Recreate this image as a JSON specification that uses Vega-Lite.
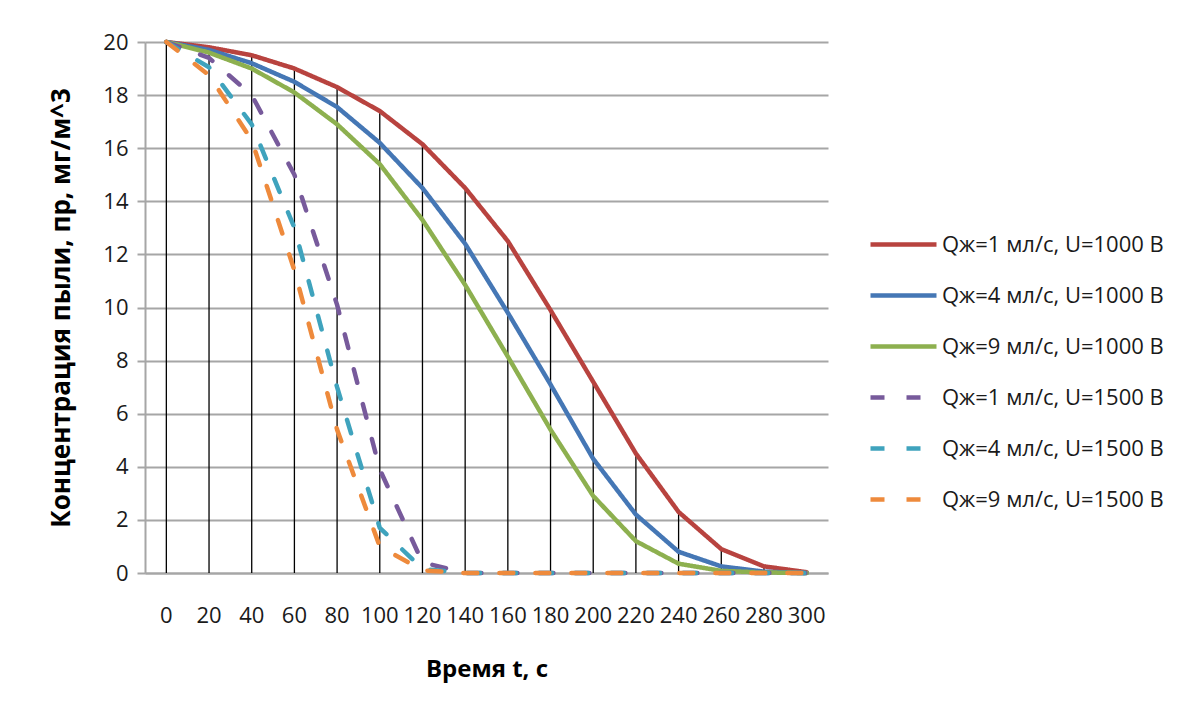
{
  "$schema": "https://vega.github.io/schema/vega-lite/v6.json",
  "width": 683,
  "height": 531,
  "autosize": {"type": "none"},
  "padding": {"left": 145, "top": 42, "right": 362, "bottom": 147},
  "background": "white",
  "config": {
    "view": {"stroke": null},
    "font": "Open Sans",
    "axis": {"labelFont": "Open Sans", "titleFont": "Open Sans", "labelColor": "#1a1a1a", "titleColor": "#000000"},
    "legend": {"labelFont": "Open Sans"}
  },
  "data": {
    "values": [
      {"t": 0, "s": "Qж=1 мл/с, U=1000 В", "v": 20},
      {"t": 20, "s": "Qж=1 мл/с, U=1000 В", "v": 19.8},
      {"t": 40, "s": "Qж=1 мл/с, U=1000 В", "v": 19.5},
      {"t": 60, "s": "Qж=1 мл/с, U=1000 В", "v": 19.0},
      {"t": 80, "s": "Qж=1 мл/с, U=1000 В", "v": 18.3},
      {"t": 100, "s": "Qж=1 мл/с, U=1000 В", "v": 17.4},
      {"t": 120, "s": "Qж=1 мл/с, U=1000 В", "v": 16.15},
      {"t": 140, "s": "Qж=1 мл/с, U=1000 В", "v": 14.5},
      {"t": 160, "s": "Qж=1 мл/с, U=1000 В", "v": 12.5},
      {"t": 180, "s": "Qж=1 мл/с, U=1000 В", "v": 9.9},
      {"t": 200, "s": "Qж=1 мл/с, U=1000 В", "v": 7.2},
      {"t": 220, "s": "Qж=1 мл/с, U=1000 В", "v": 4.5},
      {"t": 240, "s": "Qж=1 мл/с, U=1000 В", "v": 2.3},
      {"t": 260, "s": "Qж=1 мл/с, U=1000 В", "v": 0.9},
      {"t": 280, "s": "Qж=1 мл/с, U=1000 В", "v": 0.25},
      {"t": 300, "s": "Qж=1 мл/с, U=1000 В", "v": 0.03},
      {"t": 0, "s": "Qж=4 мл/с, U=1000 В", "v": 20},
      {"t": 20, "s": "Qж=4 мл/с, U=1000 В", "v": 19.7},
      {"t": 40, "s": "Qж=4 мл/с, U=1000 В", "v": 19.2},
      {"t": 60, "s": "Qж=4 мл/с, U=1000 В", "v": 18.5},
      {"t": 80, "s": "Qж=4 мл/с, U=1000 В", "v": 17.55},
      {"t": 100, "s": "Qж=4 мл/с, U=1000 В", "v": 16.2},
      {"t": 120, "s": "Qж=4 мл/с, U=1000 В", "v": 14.5},
      {"t": 140, "s": "Qж=4 мл/с, U=1000 В", "v": 12.4},
      {"t": 160, "s": "Qж=4 мл/с, U=1000 В", "v": 9.8},
      {"t": 180, "s": "Qж=4 мл/с, U=1000 В", "v": 7.1},
      {"t": 200, "s": "Qж=4 мл/с, U=1000 В", "v": 4.3},
      {"t": 220, "s": "Qж=4 мл/с, U=1000 В", "v": 2.2},
      {"t": 240, "s": "Qж=4 мл/с, U=1000 В", "v": 0.8},
      {"t": 260, "s": "Qж=4 мл/с, U=1000 В", "v": 0.25},
      {"t": 280, "s": "Qж=4 мл/с, U=1000 В", "v": 0.05},
      {"t": 300, "s": "Qж=4 мл/с, U=1000 В", "v": 0},
      {"t": 0, "s": "Qж=9 мл/с, U=1000 В", "v": 20},
      {"t": 20, "s": "Qж=9 мл/с, U=1000 В", "v": 19.6},
      {"t": 40, "s": "Qж=9 мл/с, U=1000 В", "v": 19.0},
      {"t": 60, "s": "Qж=9 мл/с, U=1000 В", "v": 18.1},
      {"t": 80, "s": "Qж=9 мл/с, U=1000 В", "v": 16.9},
      {"t": 100, "s": "Qж=9 мл/с, U=1000 В", "v": 15.4},
      {"t": 120, "s": "Qж=9 мл/с, U=1000 В", "v": 13.3},
      {"t": 140, "s": "Qж=9 мл/с, U=1000 В", "v": 10.85},
      {"t": 160, "s": "Qж=9 мл/с, U=1000 В", "v": 8.15},
      {"t": 180, "s": "Qж=9 мл/с, U=1000 В", "v": 5.4},
      {"t": 200, "s": "Qж=9 мл/с, U=1000 В", "v": 2.9},
      {"t": 220, "s": "Qж=9 мл/с, U=1000 В", "v": 1.2},
      {"t": 240, "s": "Qж=9 мл/с, U=1000 В", "v": 0.35},
      {"t": 260, "s": "Qж=9 мл/с, U=1000 В", "v": 0.08},
      {"t": 280, "s": "Qж=9 мл/с, U=1000 В", "v": 0.02},
      {"t": 300, "s": "Qж=9 мл/с, U=1000 В", "v": 0},
      {"t": 0, "s": "Qж=1 мл/с, U=1500 В", "v": 20},
      {"t": 20, "s": "Qж=1 мл/с, U=1500 В", "v": 19.4},
      {"t": 40, "s": "Qж=1 мл/с, U=1500 В", "v": 18.0},
      {"t": 60, "s": "Qж=1 мл/с, U=1500 В", "v": 15.0},
      {"t": 80, "s": "Qж=1 мл/с, U=1500 В", "v": 10.1},
      {"t": 100, "s": "Qж=1 мл/с, U=1500 В", "v": 3.9},
      {"t": 120, "s": "Qж=1 мл/с, U=1500 В", "v": 0.4},
      {"t": 140, "s": "Qж=1 мл/с, U=1500 В", "v": 0},
      {"t": 160, "s": "Qж=1 мл/с, U=1500 В", "v": 0},
      {"t": 180, "s": "Qж=1 мл/с, U=1500 В", "v": 0},
      {"t": 200, "s": "Qж=1 мл/с, U=1500 В", "v": 0},
      {"t": 220, "s": "Qж=1 мл/с, U=1500 В", "v": 0},
      {"t": 240, "s": "Qж=1 мл/с, U=1500 В", "v": 0},
      {"t": 260, "s": "Qж=1 мл/с, U=1500 В", "v": 0},
      {"t": 280, "s": "Qж=1 мл/с, U=1500 В", "v": 0},
      {"t": 300, "s": "Qж=1 мл/с, U=1500 В", "v": 0},
      {"t": 0, "s": "Qж=4 мл/с, U=1500 В", "v": 20},
      {"t": 20, "s": "Qж=4 мл/с, U=1500 В", "v": 19.05},
      {"t": 40, "s": "Qж=4 мл/с, U=1500 В", "v": 16.9},
      {"t": 60, "s": "Qж=4 мл/с, U=1500 В", "v": 13.0},
      {"t": 80, "s": "Qж=4 мл/с, U=1500 В", "v": 7.0},
      {"t": 100, "s": "Qж=4 мл/с, U=1500 В", "v": 1.7},
      {"t": 120, "s": "Qж=4 мл/с, U=1500 В", "v": 0.15},
      {"t": 140, "s": "Qж=4 мл/с, U=1500 В", "v": 0},
      {"t": 160, "s": "Qж=4 мл/с, U=1500 В", "v": 0},
      {"t": 180, "s": "Qж=4 мл/с, U=1500 В", "v": 0},
      {"t": 200, "s": "Qж=4 мл/с, U=1500 В", "v": 0},
      {"t": 220, "s": "Qж=4 мл/с, U=1500 В", "v": 0},
      {"t": 240, "s": "Qж=4 мл/с, U=1500 В", "v": 0},
      {"t": 260, "s": "Qж=4 мл/с, U=1500 В", "v": 0},
      {"t": 280, "s": "Qж=4 мл/с, U=1500 В", "v": 0},
      {"t": 300, "s": "Qж=4 мл/с, U=1500 В", "v": 0},
      {"t": 0, "s": "Qж=9 мл/с, U=1500 В", "v": 20},
      {"t": 20, "s": "Qж=9 мл/с, U=1500 В", "v": 18.75},
      {"t": 40, "s": "Qж=9 мл/с, U=1500 В", "v": 16.3},
      {"t": 60, "s": "Qж=9 мл/с, U=1500 В", "v": 11.4},
      {"t": 80, "s": "Qж=9 мл/с, U=1500 В", "v": 5.4},
      {"t": 100, "s": "Qж=9 мл/с, U=1500 В", "v": 1.0},
      {"t": 120, "s": "Qж=9 мл/с, U=1500 В", "v": 0.1},
      {"t": 140, "s": "Qж=9 мл/с, U=1500 В", "v": 0},
      {"t": 160, "s": "Qж=9 мл/с, U=1500 В", "v": 0},
      {"t": 180, "s": "Qж=9 мл/с, U=1500 В", "v": 0},
      {"t": 200, "s": "Qж=9 мл/с, U=1500 В", "v": 0},
      {"t": 220, "s": "Qж=9 мл/с, U=1500 В", "v": 0},
      {"t": 240, "s": "Qж=9 мл/с, U=1500 В", "v": 0},
      {"t": 260, "s": "Qж=9 мл/с, U=1500 В", "v": 0},
      {"t": 280, "s": "Qж=9 мл/с, U=1500 В", "v": 0},
      {"t": 300, "s": "Qж=9 мл/с, U=1500 В", "v": 0}
    ]
  },
  "encoding": {
    "x": {
      "field": "t",
      "type": "ordinal",
      "scale": {"type": "band", "paddingInner": 0, "paddingOuter": 0},
      "axis": {
        "title": "Время t, с",
        "titleFontSize": 24,
        "titleFontWeight": "bold",
        "titlePadding": 31,
        "labelFontSize": 22,
        "labelAngle": 0,
        "labelPadding": 32,
        "ticks": false,
        "domainColor": "#a6a6a6",
        "domainWidth": 2,
        "grid": false
      }
    },
    "y": {
      "field": "v",
      "type": "quantitative",
      "scale": {"domain": [0, 20], "nice": false},
      "axis": {
        "title": "Концентрация пыли, пр, мг/м^3",
        "titleFontSize": 26,
        "titleFontWeight": "bold",
        "titlePadding": 28,
        "labelFontSize": 22,
        "labelPadding": 9,
        "values": [0, 2, 4, 6, 8, 10, 12, 14, 16, 18, 20],
        "tickSize": 8,
        "tickColor": "#a6a6a6",
        "tickWidth": 2,
        "domainColor": "#a6a6a6",
        "domainWidth": 2,
        "grid": true,
        "gridColor": "#a6a6a6",
        "gridWidth": 2
      }
    }
  },
  "layer": [
    {
      "transform": [{"filter": "datum.s === 'Qж=1 мл/с, U=1000 В'"}],
      "mark": {"type": "rule", "color": "#000000", "strokeWidth": 1.3},
      "encoding": {"y2": {"datum": 0}}
    },
    {
      "mark": {"type": "line", "strokeWidth": 4.5, "strokeCap": "round", "strokeJoin": "round"},
      "encoding": {
        "color": {
          "field": "s",
          "type": "nominal",
          "scale": {
            "domain": ["Qж=1 мл/с, U=1000 В", "Qж=4 мл/с, U=1000 В", "Qж=9 мл/с, U=1000 В", "Qж=1 мл/с, U=1500 В", "Qж=4 мл/с, U=1500 В", "Qж=9 мл/с, U=1500 В"],
            "range": ["#B8433F", "#4577B5", "#8DB04F", "#775A9B", "#3FA3BD", "#EE8A3C"]
          },
          "legend": {
            "title": null,
            "orient": "none",
            "legendX": 723,
            "legendY": 167,
            "symbolType": "stroke",
            "symbolSize": 4356,
            "symbolStrokeWidth": 4.5,
            "labelFontSize": 22,
            "labelColor": "#1a1a1a",
            "labelLimit": 400,
            "rowPadding": 4,
            "labelOffset": 3
          }
        },
        "strokeDash": {
          "field": "s",
          "type": "nominal",
          "scale": {
            "domain": ["Qж=1 мл/с, U=1000 В", "Qж=4 мл/с, U=1000 В", "Qж=9 мл/с, U=1000 В", "Qж=1 мл/с, U=1500 В", "Qж=4 мл/с, U=1500 В", "Qж=9 мл/с, U=1500 В"],
            "range": [[1, 0], [1, 0], [1, 0], [14, 22], [14, 22], [14, 22]]
          },
          "legend": {
            "title": null,
            "orient": "none",
            "legendX": 723,
            "legendY": 167,
            "symbolType": "stroke",
            "symbolSize": 4356,
            "symbolStrokeWidth": 4.5,
            "labelFontSize": 22,
            "labelColor": "#1a1a1a",
            "labelLimit": 400,
            "rowPadding": 4,
            "labelOffset": 3
          }
        }
      }
    }
  ]
}
